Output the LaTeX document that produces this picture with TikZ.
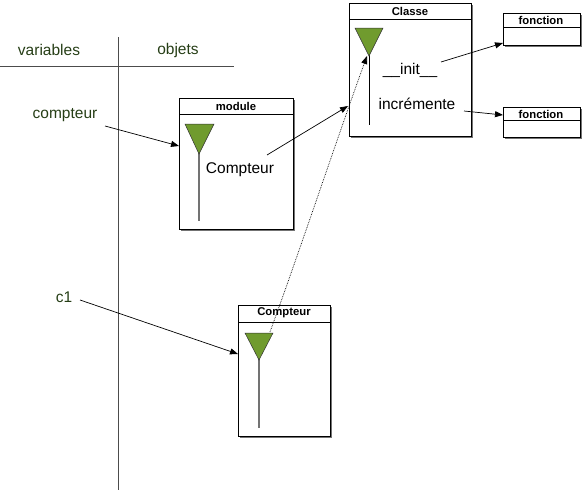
\documentclass[tikz,border=0pt]{standalone}
\usepackage{fontspec}
\setmainfont{Liberation Sans}
\usetikzlibrary{arrows.meta,calc}
\definecolor{vgreen}{RGB}{38,62,22}
\definecolor{trifill}{RGB}{112,155,46}
\tikzset{
  x=1pt,y=-1pt,
  shadowbox/.style={fill=black!55,draw=none},
  boxframe/.style={line width=0.9pt,fill=white},
  titletext/.style={font=\bfseries\fontsize{11.3}{13}\selectfont,inner sep=0pt},
  label/.style={font=\fontsize{15.5}{18}\selectfont,inner sep=1pt},
  varlabel/.style={font=\fontsize{15.5}{18}\selectfont,text=vgreen,inner sep=1pt},
  arr/.style={-{Triangle[length=8pt,width=6pt]},line width=0.7pt},
  tri/.style={fill=trifill,draw=black!80,line width=0.5pt},
  stem/.style={draw=black!55,line width=1.1pt},
}
\begin{document}
\begin{tikzpicture}
\useasboundingbox (0,0) rectangle (587,490);
% table lines
\draw[line width=0.8pt,black!70] (118,37) -- (118,490);
\draw[line width=0.8pt,black!70] (0,66) -- (234,66);
\node[varlabel] (hv) at (49,50) {variables};
\node[varlabel] (ho) at (178,50) {objets};
\node[varlabel] (vcompteur) at (65,115) {compteur};
\node[varlabel] (vc1) at (64,297) {c1};

% module box
\fill[shadowbox] (181,100) rectangle (295,231);
\draw[boxframe] (179,98) rectangle (293,229);
\draw[line width=0.9pt] (179,114) -- (293,114);
\node[titletext] (modt) at (236,106) {module};
\draw[stem] (199,152) -- (199,221);
\draw[tri] (185,124) -- (214,124) -- (199,154) -- cycle;
\coordinate (modarr) at (179,146);
\node[label] (modC) at (240,170) {Compteur};

% Classe box
\fill[shadowbox] (351,5) rectangle (473,138);
\draw[boxframe] (349,3) rectangle (471,136);
\draw[line width=0.9pt] (349,19) -- (471,19);
\node[titletext] (clt) at (410,11) {Classe};
\draw[line width=1pt,black] (369,54) -- (369,125);
\draw[tri] (355,28) -- (383,28) -- (369,56) -- cycle;
\coordinate (cltip) at (367,56);
\coordinate (clarr) at (348,106);
\node[label] (init) at (410,70) {\_\_init\_\_};
\node[label] (incr) at (417,104) {incrémente};

% fonction boxes
\fill[shadowbox] (505,15) rectangle (582,47);
\draw[boxframe] (503,13) rectangle (580,45);
\draw[line width=0.9pt] (503,27) -- (580,27);
\node[titletext] (f1) at (541,20) {fonction};
\coordinate (f1arr) at (503,43);

\fill[shadowbox] (505,109) rectangle (582,139);
\draw[boxframe] (503,107) rectangle (580,137);
\draw[line width=0.9pt] (503,120) -- (580,120);
\node[titletext] (f2) at (541,114) {fonction};
\coordinate (f2arr) at (503,115);

% Compteur object box
\fill[shadowbox] (240,307) rectangle (332,438);
\draw[boxframe] (238,305) rectangle (330,436);
\draw[line width=0.9pt] (238,322) -- (330,322);
\node[titletext] (cot) at (284,313) {Compteur};
\draw[stem] (259,358) -- (259,428);
\draw[tri] (245,333) -- (273,333) -- (259,360) -- cycle;
\coordinate (coarr) at (238,354);
\coordinate (codot) at (270,332);

% connectors
\coordinate (s1) at (105,126);
\draw[arr] (s1) -- (modarr);
\coordinate (s2) at (80,300);
\draw[arr] (s2) -- (coarr);
\coordinate (s3) at (267,155);
\draw[arr] (s3) -- (clarr);
\coordinate (s4) at (441,62);
\draw[arr] (s4) -- (f1arr);
\coordinate (s5) at (464,111);
\draw[arr] (s5) -- (f2arr);
\draw[arr,densely dotted,line width=0.7pt] (codot) .. controls (300,250) and (340,130) .. (cltip);
\end{tikzpicture}
\end{document}
